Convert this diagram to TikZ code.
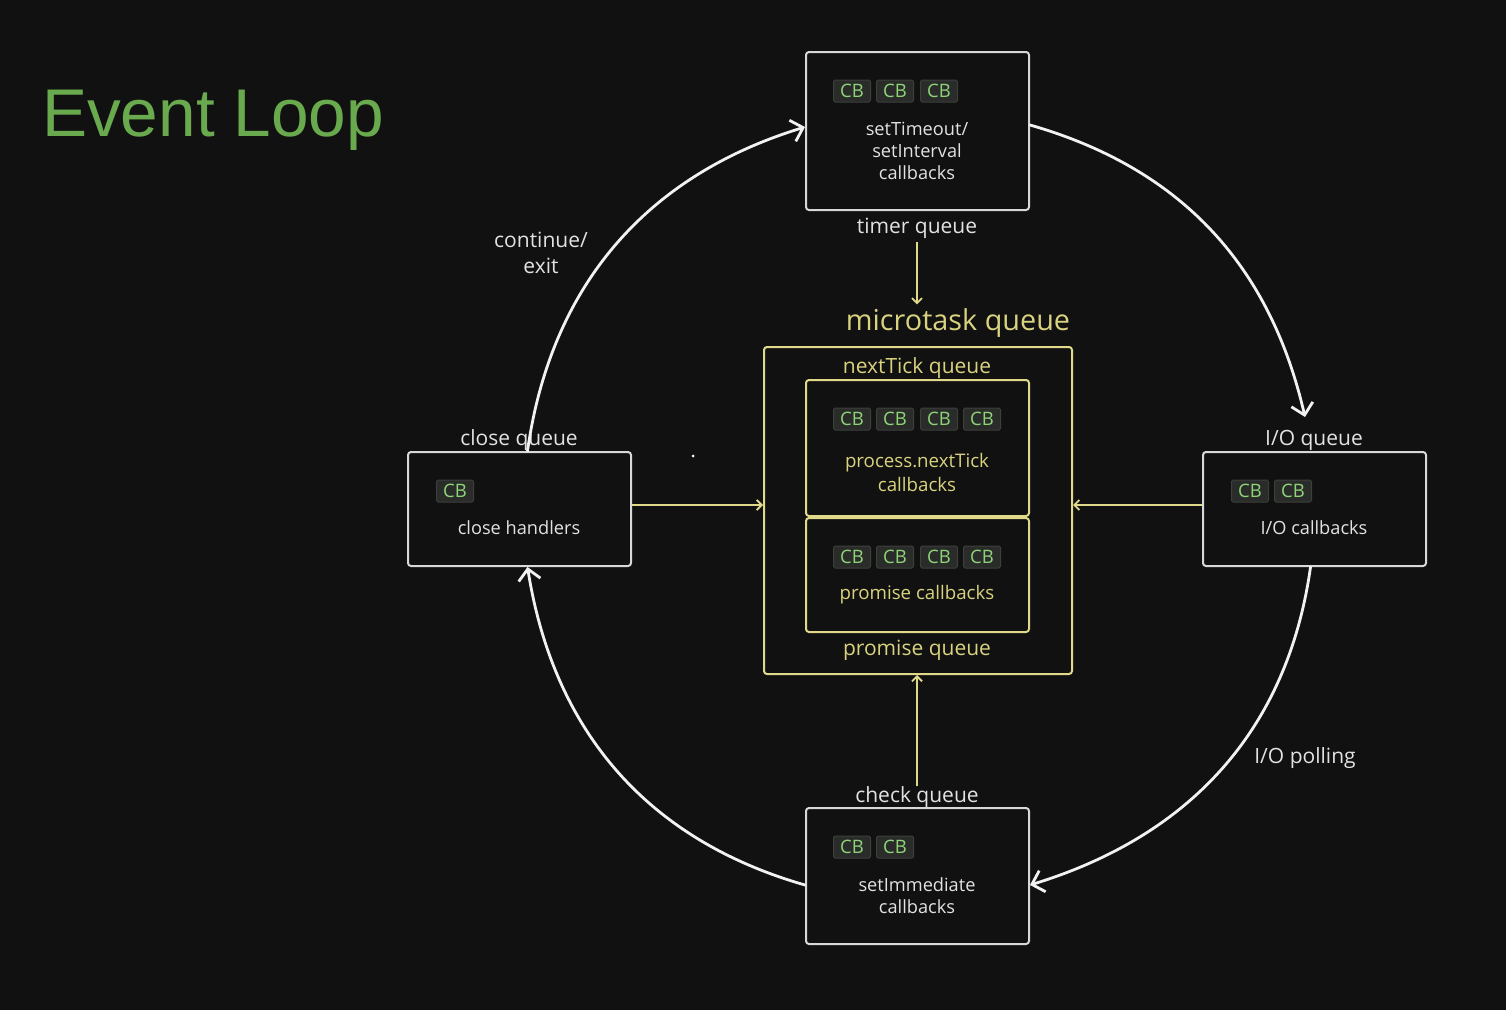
\documentclass[tikz,border=0pt]{standalone}
\usepackage{fontspec}
\setmainfont{Open Sans}
\newfontfamily\titlefont{Liberation Sans}
\usetikzlibrary{arrows.meta,calc}
\definecolor{bg}{HTML}{111111}
\definecolor{txt}{HTML}{E2E2E2}
\definecolor{boxline}{HTML}{D8D8D8}
\definecolor{loopc}{HTML}{F2F2F2}
\definecolor{yline}{HTML}{E0D98A}
\definecolor{ytxt}{HTML}{D9D27E}
\definecolor{chipfill}{HTML}{2A2C2A}
\definecolor{chipline}{HTML}{3C3F3C}
\definecolor{chipgreen}{HTML}{8FD479}
\definecolor{titlegreen}{HTML}{6AAA4E}
\begin{document}
\begin{tikzpicture}[x=1pt,y=-1pt,
  qbox/.style={draw=boxline, line width=2pt, rounded corners=3pt, fill=bg, inner sep=0pt, minimum width=223pt},
  ybox/.style={draw=yline, line width=2pt, rounded corners=3pt, inner sep=0pt},
  chip/.style={fill=chipfill, draw=chipline, line width=1pt, rounded corners=1.5pt, text=chipgreen, font=\fontsize{18.5}{18.5}\selectfont, minimum width=37pt, minimum height=22pt, inner sep=0pt},
  lbl/.style={text=txt, font=\fontsize{21}{26}\selectfont, align=center, inner sep=0pt},
  ylbl/.style={text=ytxt, font=\fontsize{21}{26}\selectfont, inner sep=0pt},
  boxtxt/.style={text=txt, font=\fontsize{18.2}{22}\selectfont, align=center, inner sep=0pt},
  yboxtxt/.style={text=ytxt, font=\fontsize{18.7}{24}\selectfont, align=center, inner sep=0pt},
  looparrow/.style={draw=loopc, line width=2.8pt, line cap=round, -{Straight Barb[length=11pt,width=22pt,line width=2.8pt]}},
  yarrow/.style={draw=yline, line width=1.8pt, -{Straight Barb[length=5pt,width=10pt,line width=1.8pt]}}
]
\fill[bg] (0,0) rectangle (1506,1010);
\useasboundingbox (0,0) rectangle (1506,1010);

% title
\node[anchor=west, text=titlegreen, font=\titlefont\fontsize{67.5}{67.5}\selectfont, inner sep=0pt] (title) at (42,120) {Event Loop};

% queue boxes
\node[qbox, minimum height=158pt] (timer) at (917.5,131) {};
\node[qbox, minimum height=114pt] (close) at (519.5,509) {};
\node[qbox, minimum height=114pt] (io) at (1314.5,509) {};
\node[qbox, minimum height=136pt] (check) at (917.5,876) {};

% microtask area
\node[ybox, minimum width=308pt, minimum height=327pt] (outer) at (918,510.5) {};
\node[ybox, minimum width=223pt, minimum height=136pt] (ntbox) at (917.5,448) {};
\node[ybox, minimum width=223pt, minimum height=114pt] (prbox) at (917.5,575) {};

% labels
\node[lbl] (timerlbl) at (917,228) {timer queue};
\node[lbl] (closelbl) at (519,440) {close queue};
\node[lbl] (iolbl) at (1314,440) {I/O queue};
\node[lbl] (checklbl) at (917,797) {check queue};
\node[lbl] (contlbl) at (541,253) {continue/\\exit};
\node[lbl] (polllbl) at (1305,758) {I/O polling};
\node[ylbl, font=\fontsize{28.8}{30}\selectfont] (microlbl) at (958,323) {microtask queue};
\node[ylbl] (ntlbl) at (917,368) {nextTick queue};
\node[ylbl] (prlbl) at (917,650) {promise queue};

% timer content
\node[chip] (t1) at (852,91) {CB};
\node[chip] (t2) at (895,91) {CB};
\node[chip] (t3) at (939,91) {CB};
\node[boxtxt] (ttxt) at (917,151) {setTimeout/\\setInterval\\callbacks};

% close content
\node[chip] (c1) at (455,491) {CB};
\node[boxtxt] (ctxt) at (519,528) {close handlers};

% io content
\node[chip] (i1) at (1250,491) {CB};
\node[chip] (i2) at (1293,491) {CB};
\node[boxtxt] (itxt) at (1314,528) {I/O callbacks};

% check content
\node[chip] (k1) at (852,847) {CB};
\node[chip] (k2) at (895,847) {CB};
\node[boxtxt] (ktxt) at (917,896) {setImmediate\\callbacks};

% nextTick content
\node[chip] (n1) at (852,419) {CB};
\node[chip] (n2) at (895,419) {CB};
\node[chip] (n3) at (939,419) {CB};
\node[chip] (n4) at (982,419) {CB};
\node[yboxtxt] (ntxt) at (917,472) {process.nextTick\\callbacks};

% promise content
\node[chip] (p1) at (852,557) {CB};
\node[chip] (p2) at (895,557) {CB};
\node[chip] (p3) at (939,557) {CB};
\node[chip] (p4) at (982,557) {CB};
\node[yboxtxt] (ptxt) at (917,595) {promise callbacks};

% loop arrows
\coordinate (ioTip) at (1305,417);
\draw[looparrow] ([yshift=6pt]timer.east) to[out=-16,in=103] (ioTip);
\draw[looparrow] ([xshift=-4pt]io.south) to[out=-98,in=17] ([yshift=-9pt]check.east);
\draw[looparrow] ([yshift=-9pt]check.west) to[out=164,in=-81] ([xshift=8pt]close.south);
\draw[looparrow] ([xshift=8pt]close.north) to[out=82,in=197] ([yshift=4pt]timer.west);

% yellow arrows
\draw[yarrow] ([yshift=-4pt]timerlbl.south) -- ([yshift=4pt]timerlbl.south |- microlbl.north);
\draw[yarrow] ([yshift=4pt]close.east) -- ([yshift=4pt]close.east -| outer.west);
\draw[yarrow] ([yshift=4pt]io.west) -- ([yshift=4pt]io.west -| outer.east);
\draw[yarrow] (checklbl.north) -- (checklbl.north |- outer.south);

% stray dot
\fill[white] (693,456) circle (1.5pt);
\end{tikzpicture}
\end{document}
